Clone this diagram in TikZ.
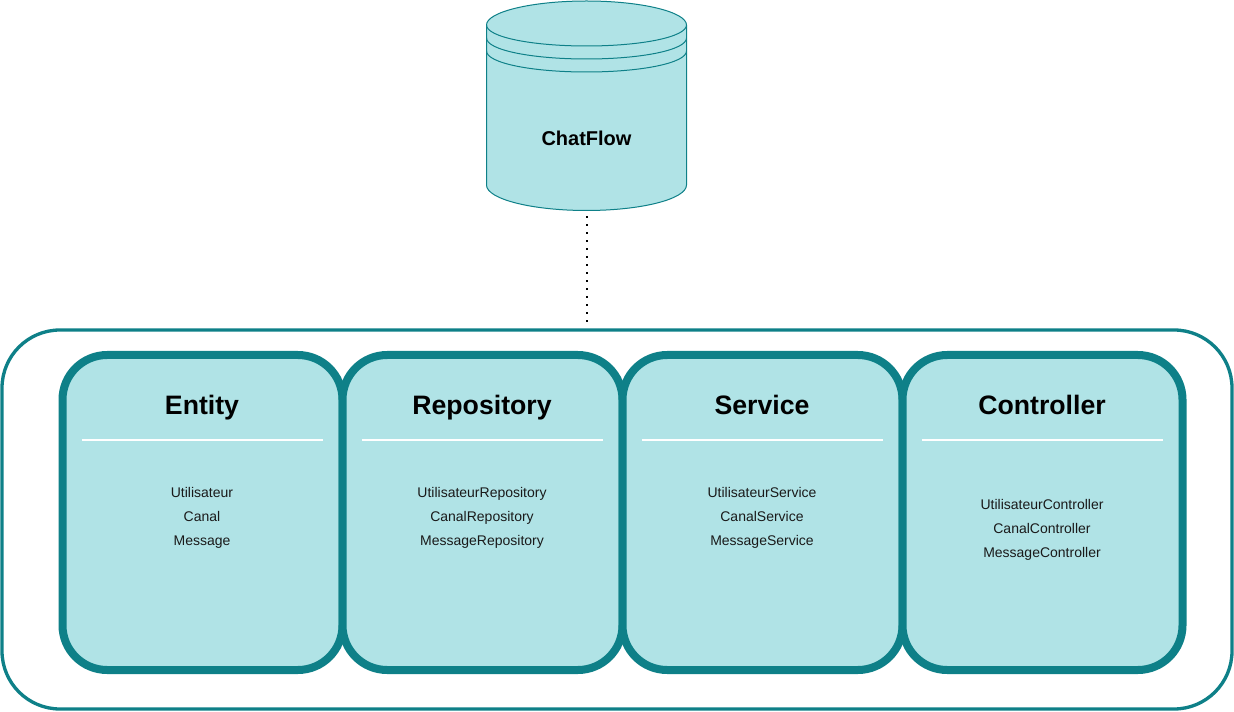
\documentclass[tikz,border=0pt]{standalone}
\usepackage{fontspec}
\setmainfont{Liberation Sans}
\definecolor{tealfill}{HTML}{B0E3E6}
\definecolor{tealline}{HTML}{0E8088}
\definecolor{bodytext}{HTML}{1A1A1A}
\begin{document}
\begin{tikzpicture}[x=0.75pt,y=-0.75pt,
  outerbox/.style={draw=tealline,line width=2.5pt,rounded corners=43.5pt,fill=white,
    minimum width=922.5pt,minimum height=284.25pt,inner sep=0pt,outer sep=0pt},
  layerbox/.style={draw=tealline,fill=tealfill,line width=6pt,rounded corners=33.5pt,
    minimum width=210pt,minimum height=236.25pt,inner sep=0pt,outer sep=0pt},
  headtext/.style={font=\fontsize{20}{24}\selectfont\bfseries,anchor=base,inner sep=0pt,text=black},
  itemtext/.style={font=\fontsize{10.5}{18}\selectfont,align=center,inner sep=0pt,text=bodytext},
  rule/.style={draw=white,line width=1.5pt},
  cyl/.style={draw=tealline,fill=tealfill,line width=0.75pt},
  link/.style={draw=black,line width=1.5pt,dash pattern=on 1.5pt off 4.5pt}]
\useasboundingbox (0,0) rectangle (1234,712);
\fill[white] (0,0) rectangle (1234,712);
% outer frame
\node[outerbox] (outer) at (617,519.5) {};
% database cylinder
\path[cyl] (486.5,25) .. controls (486.5,12) and (531.5,1) .. (586.5,1)
  .. controls (641.5,1) and (686.5,12) .. (686.5,25)
  -- (686.5,185) .. controls (686.5,199) and (641.5,210.5) .. (586.5,210.5)
  .. controls (531.5,210.5) and (486.5,199) .. (486.5,185) -- cycle;
\draw[tealline,line width=0.75pt] (486.5,25) .. controls (486.5,37) and (531.5,46) .. (586.5,46) .. controls (641.5,46) and (686.5,37) .. (686.5,25);
\draw[tealline,line width=0.75pt] (486.5,38) .. controls (486.5,50) and (531.5,59) .. (586.5,59) .. controls (641.5,59) and (686.5,50) .. (686.5,38);
\draw[tealline,line width=0.75pt] (486.5,51) .. controls (486.5,63) and (531.5,72) .. (586.5,72) .. controls (641.5,72) and (686.5,63) .. (686.5,51);
\node[minimum width=150pt,minimum height=157pt,inner sep=0pt,outer sep=0pt] (db) at (586.75,105.75) {};
\node[font=\fontsize{15}{18}\selectfont\bfseries,anchor=base,inner sep=0pt] (dblabel) at (586.5,146) {ChatFlow};
% dotted link
\draw[link,shorten <=4.5pt,shorten >=5.25pt] (db.south) -- (db.south |- outer.north);
% layers
\node[layerbox] (entity) at (202.5,512.5) {};
\node[layerbox] (repo) at (482.5,512.5) {};
\node[layerbox] (service) at (762.5,512.5) {};
\node[layerbox] (ctrl) at (1042.5,512.5) {};
% headings
\node[headtext] (h1) at (202,414.2) {Entity};
\node[headtext] (h2) at (482,414.2) {Repository};
\node[headtext] (h3) at (762,414.2) {Service};
\node[headtext] (h4) at (1042,414.2) {Controller};
% rules
\draw[rule] (82,440) -- (323,440);
\draw[rule] (362,440) -- (603,440);
\draw[rule] (642,440) -- (883,440);
\draw[rule] (922,440) -- (1163,440);
% items
\node[itemtext] (t1) at (202,518) {Utilisateur\\Canal\\Message};
\node[itemtext] (t2) at (482,518) {UtilisateurRepository\\CanalRepository\\MessageRepository};
\node[itemtext] (t3) at (762,518) {UtilisateurService\\CanalService\\MessageService};
\node[itemtext] (t4) at (1042,530) {UtilisateurController\\CanalController\\MessageController};
\end{tikzpicture}
\end{document}
